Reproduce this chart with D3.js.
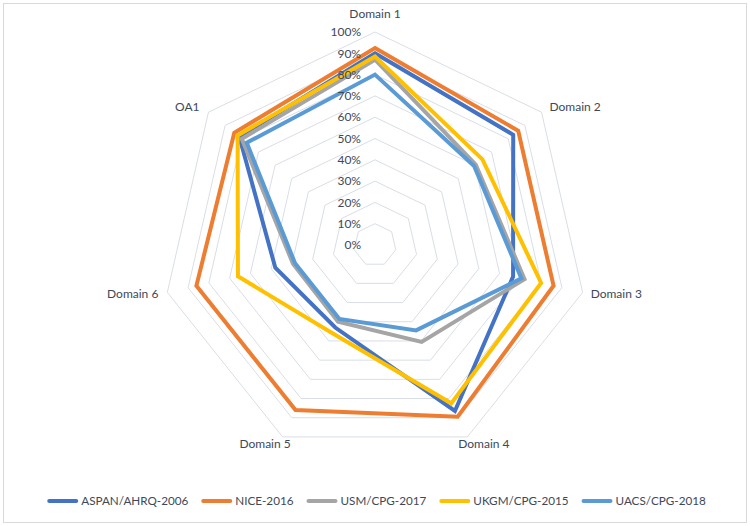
<!DOCTYPE html>
<html><head><meta charset="utf-8">
<script src="https://cdn.jsdelivr.net/npm/d3@7"></script>
<style>body{margin:0;background:#fff}svg{display:block;font-family:Lato,"Open Sans",sans-serif}</style>
</head><body><svg id="c" width="750" height="526"></svg>
<script>
const categories = ["Domain 1","Domain 2","Domain 3","Domain 4","Domain 5","Domain 6","OA1"];
const seriesNames = ["ASPAN/AHRQ-2006","NICE-2016","USM/CPG-2017","UKGM/CPG-2015","UACS/CPG-2018"];
const aspan = [90, 83, 66.5, 86.5, 43, 48, 81.5];
const nice  = [92.5, 86, 86, 89.5, 86, 86, 84.5];
const usm   = [87, 60.5, 72, 50.5, 40, 39.5, 80];
const ukgm  = [88.5, 64.5, 80, 82.5, 46, 66, 82.5];
const uacs  = [80, 59.5, 70.5, 44.5, 38.5, 38.5, 77];
const tickValues = [0,10,20,30,40,50,60,70,80,90,100];
const tickLabels = ["0%","10%","20%","30%","40%","50%","60%","70%","80%","90%","100%"];
const colors = ["#4472C4","#ED7D31","#A5A5A5","#FFC000","#5B9BD5"];
const series = [aspan, nice, usm, ukgm, uacs];

const svg = d3.select("#c");
const cx = 375, cy = 245, R = 213;
const textColor = "#3d4959";
svg.append("rect").attr("x",3.5).attr("y",3.5).attr("width",743).attr("height",519)
  .attr("fill","#fff").attr("stroke","#d9d9d9");

const r = d3.scaleLinear().domain([0,100]).range([0,R]);
const ang = d3.scaleLinear().domain([0,categories.length]).range([0,2*Math.PI]);
const g = svg.append("g").attr("transform",`translate(${cx},${cy})`);

const ring = d3.lineRadial().angle((d,i)=>ang(i)).radius(d=>r(d)).curve(d3.curveLinearClosed);
tickValues.filter(v=>v>0).forEach(v=>{
  g.append("path").attr("d", ring(categories.map(()=>v)))
   .attr("fill","none").attr("stroke","#d9dee6").attr("stroke-width",1);
});

series.forEach((s,k)=>{
  g.append("path").attr("d", ring(s)).attr("fill","none")
   .attr("stroke",colors[k]).attr("stroke-width",4).attr("stroke-linejoin","miter");
});

tickValues.forEach((v,i)=>{
  g.append("text").attr("x",-14).attr("y",-r(v)).attr("dy","0.35em")
   .attr("text-anchor","end").attr("font-size",12).attr("fill",textColor).text(tickLabels[i]);
});

categories.forEach((c,i)=>{
  const a = ang(i), ux = Math.sin(a), uy = -Math.cos(a);
  const vx = ux*R, vy = uy*R;
  let x, y, anchor;
  if (Math.abs(ux) < 0.1) { x = vx; y = vy - 18; anchor = "middle"; }
  else if (Math.abs(ux) > 0.7) {
    anchor = ux > 0 ? "start" : "end";
    x = vx + (ux > 0 ? 8 : -9);
    y = vy + (uy < 0 ? -5.5 : 1.6);
  } else { anchor = "middle"; x = vx + (ux > 0 ? 16.5 : -17.5); y = vy + 7; }
  g.append("text").attr("x",x).attr("y",y).attr("dy","0.35em").attr("text-anchor",anchor)
   .attr("font-size",12).attr("fill",textColor).text(c);
});

const lg = svg.append("g");
let xpos = 0;
seriesNames.forEach((n,k)=>{
  const it = lg.append("g");
  it.append("line").attr("x1",2).attr("x2",29).attr("y1",0).attr("y2",0)
    .attr("stroke",colors[k]).attr("stroke-width",4).attr("stroke-linecap","round");
  const t = it.append("text").attr("x",34).attr("dy","0.35em").attr("font-size",11.7)
    .attr("fill",textColor).text(n);
  const w = 34 + t.node().getComputedTextLength();
  it.attr("transform",`translate(${xpos},0)`);
  xpos += w + 13;
});
const total = xpos - 13;
lg.attr("transform",`translate(${376.5 - total/2},501)`);
</script></body></html>
